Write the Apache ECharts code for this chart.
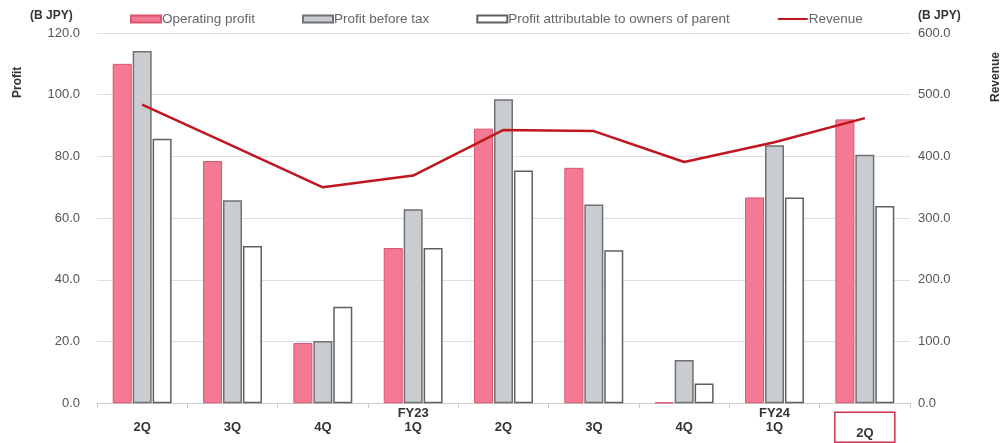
<!DOCTYPE html>
<html><head><meta charset="utf-8">
<script src="https://cdn.jsdelivr.net/npm/echarts@6/dist/echarts.min.js"></script>
<style>html,body{margin:0;padding:0;background:#fff}#c{width:1004px;height:443px}</style>
</head><body><div id="c"></div>
<script>
var categories = ['2Q', '3Q', '4Q', 'FY23\n1Q', '2Q', '3Q', '4Q', 'FY24\n1Q', '2Q'];
var operatingProfit = [110.0, 78.5, 19.5, 50.3, 89.0, 76.3, 0.3, 66.7, 92.0];
var profitBeforeTax = [114.2, 65.8, 20.2, 62.9, 98.5, 64.4, 14.0, 83.6, 80.5];
var profitOwners = [85.7, 51.0, 31.3, 50.3, 75.4, 49.6, 6.4, 66.7, 63.9];
var revenue = [484, 417, 350, 369, 443, 441, 391, 423, 462];
var leftTicks = { min: 0, max: 120, interval: 20 };
var rightTicks = { min: 0, max: 600, interval: 100 };

var chart = echarts.init(document.getElementById('c'), null, { renderer: 'canvas' });
var FONT = 'Liberation Sans, Arial, sans-serif';
var lastIdx = categories.length - 1;
chart.setOption({
  animation: false,
  textStyle: { fontFamily: FONT },
  grid: { left: 97, right: 94, top: 33, bottom: 36, containLabel: false },
  legend: {
    top: 7, left: 125, itemGap: 47, itemWidth: 30, itemHeight: 7,
    textStyle: { color: '#666', fontSize: 13.5, fontFamily: FONT, padding: [0, 0, 0, -4] },
    data: [
      { name: 'Operating profit', icon: 'rect' },
      { name: 'Profit before tax', icon: 'rect' },
      { name: 'Profit attributable to owners of parent', icon: 'rect' },
      { name: 'Revenue', itemStyle: { opacity: 0 } }
    ]
  },
  xAxis: {
    type: 'category', data: categories,
    axisLine: { lineStyle: { color: '#ccc' } },
    axisTick: { show: true, length: 5, lineStyle: { color: '#ccc' } },
    axisLabel: {
      interval: 0, margin: 31, verticalAlign: 'bottom',
      color: '#333', fontWeight: 'bold', fontSize: 13, lineHeight: 14, fontFamily: FONT,
      formatter: function (v, i) { return i === lastIdx ? '{hl|' + v + '}' : v; },
      rich: {
        hl: {
          color: '#333', fontWeight: 'bold', fontSize: 13, fontFamily: FONT,
          borderColor: '#d0304f', borderWidth: 1.5, width: 60, align: 'center',
          padding: [15, 0, 2, 0], lineHeight: 14
        }
      }
    }
  },
  yAxis: [
    {
      type: 'value', min: leftTicks.min, max: leftTicks.max, interval: leftTicks.interval,
      axisLine: { show: false }, axisTick: { show: false },
      splitLine: { lineStyle: { color: '#dedede' } },
      axisLabel: { margin: 17, color: '#555', fontSize: 13, fontFamily: FONT, formatter: function (v) { return v.toFixed(1); } }
    },
    {
      type: 'value', min: rightTicks.min, max: rightTicks.max, interval: rightTicks.interval,
      axisLine: { show: false }, axisTick: { show: false }, splitLine: { show: false },
      axisLabel: { margin: 8, color: '#555', fontSize: 13, fontFamily: FONT, formatter: function (v) { return v.toFixed(1); } }
    }
  ],
  series: [
    {
      name: 'Operating profit', type: 'bar', data: operatingProfit, barWidth: 19, barGap: '5%',
      itemStyle: { color: '#f47a93', borderColor: '#d9546f', borderWidth: 1 }
    },
    {
      name: 'Profit before tax', type: 'bar', data: profitBeforeTax, barWidth: 19, barGap: '5%',
      itemStyle: { color: '#c9cdd2', borderColor: '#707070', borderWidth: 1.5 }
    },
    {
      name: 'Profit attributable to owners of parent', type: 'bar', data: profitOwners, barWidth: 19, barGap: '5%',
      itemStyle: { color: '#ffffff', borderColor: '#606060', borderWidth: 1.5 }
    },
    {
      name: 'Revenue', type: 'line', yAxisIndex: 1, data: revenue, showSymbol: false, symbol: 'none',
      lineStyle: { color: '#c0161f', width: 2.5 }, itemStyle: { color: '#c0161f' }, z: 5
    }
  ],
  graphic: [
    { type: 'text', left: 30, top: 10, style: { text: '(B JPY)', font: 'bold 12px ' + FONT, fill: '#333' } },
    { type: 'text', left: 918, top: 10, style: { text: '(B JPY)', font: 'bold 12px ' + FONT, fill: '#333' } },
    { type: 'text', x: 12, y: 98, rotation: Math.PI / 2, style: { text: 'Profit', font: 'bold 12px ' + FONT, fill: '#333' } },
    { type: 'text', x: 990, y: 102, rotation: Math.PI / 2, style: { text: 'Revenue', font: 'bold 12px ' + FONT, fill: '#333' } }
  ]
});
</script></body></html>
